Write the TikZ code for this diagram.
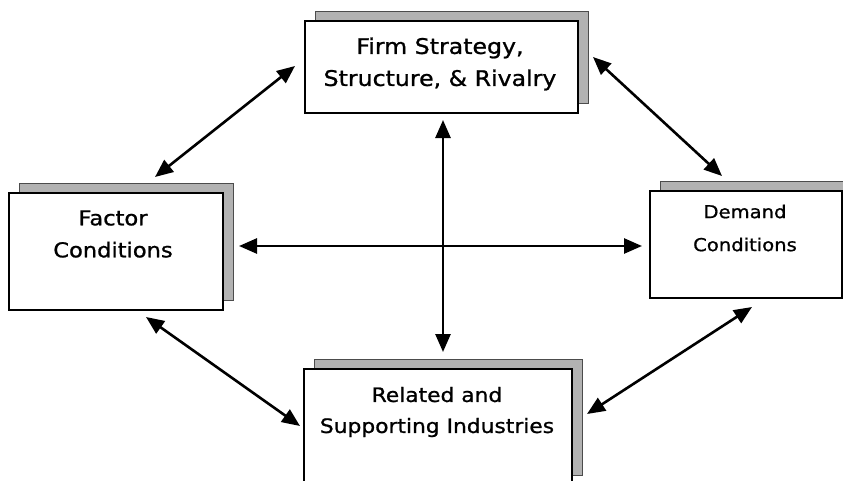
\documentclass[tikz,border=0pt]{standalone}
\usepackage{fontspec}
\setmainfont[FakeStretch=1.1,FakeBold=1]{DejaVu Sans}
\usetikzlibrary{arrows.meta,calc}
\tikzset{
  frontbox/.style={draw=black, line width=1.5pt, fill=white, inner sep=0pt, outer sep=0pt},
  shadowbox/.style={draw=black!70, line width=0.8pt, fill=gray!60, inner sep=0pt, outer sep=0pt},
  label/.style={align=center, inner sep=0pt, text=black},
  link/.style={line width=2.6pt, {Triangle[length=18pt,width=15pt]}-{Triangle[length=18pt,width=15pt]}}
}
\begin{document}
\begin{tikzpicture}[x=1pt,y=-1pt]
\useasboundingbox (0,0) rectangle (843,480);
\clip (0,0) rectangle (843,480);
% shadows
\node[shadowbox, minimum width=273pt, minimum height=92pt] (firmsh) at (451.5,57) {};
\node[shadowbox, minimum width=214pt, minimum height=117pt] (factorsh) at (126,241.5) {};
\node[shadowbox, minimum width=192pt, minimum height=107pt] (demandsh) at (756,234.5) {};
\node[shadowbox, minimum width=268pt, minimum height=116pt] (relatedsh) at (448,417) {};
% front boxes
\node[frontbox, minimum width=273pt, minimum height=92pt] (firm) at (441.5,67) {};
\node[frontbox, minimum width=214pt, minimum height=117pt] (factor) at (116,251.5) {};
\node[frontbox, minimum width=192pt, minimum height=107pt] (demand) at (746,244.5) {};
\node[frontbox, minimum width=268pt, minimum height=116pt] (related) at (438,427) {};
% labels
\node[label, font=\fontsize{21.5}{32}\selectfont] (firmtext) at (440,64) {Firm Strategy,\\Structure, \& Rivalry};
\node[label, font=\fontsize{20.5}{32}\selectfont] (factortext) at (113,234) {Factor\\Conditions};
\node[label, font=\fontsize{17.8}{33}\selectfont] (demandtext) at (745,228) {Demand\\Conditions};
\node[label, font=\fontsize{19.8}{31}\selectfont] (relatedtext) at (437,412) {Related and\\Supporting Industries};
% connectors
\draw[link] ($(factor.north)+(39,-16)$) -- ($(firm.west)+(-10,-1)$);
\draw[link] ($(firm.east)+(15,-10)$) -- ($(demand.north)+(-24,-15)$);
\draw[link] ($(factor.south)+(30,7)$) -- ($(related.west)+(-4,-1)$);
\draw[link] ($(demand.south)+(6,9)$) -- ($(related.east)+(15,-13)$);
\draw[link] ($(factor.east)+(16,-5.5)$) -- ($(demand.west)+(-8,1.5)$);
\draw[link] ($(firm.south)+(1.5,7)$) -- ($(related.north)+(5,-17)$);
\end{tikzpicture}
\end{document}
